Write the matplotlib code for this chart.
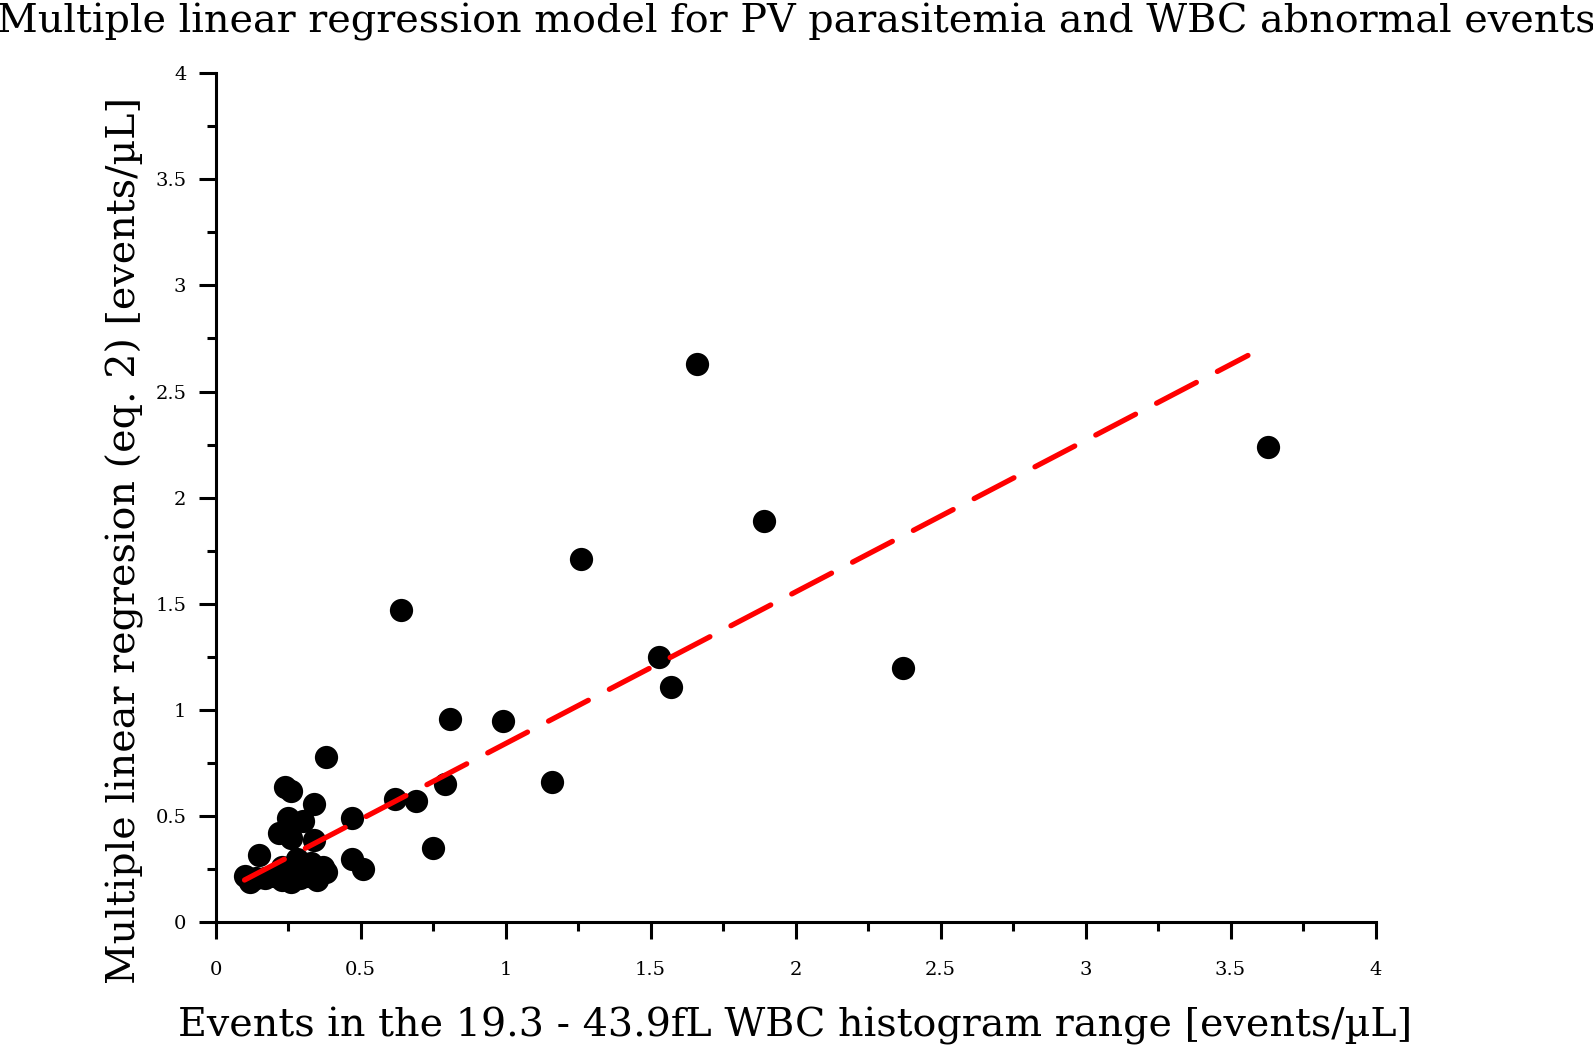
import matplotlib
matplotlib.use("Agg")
import matplotlib.pyplot as plt
from matplotlib.ticker import MultipleLocator

# scatter values
ev_x = [1.66, 3.63, 1.89, 1.26, 0.64, 1.53, 1.57, 2.37, 0.81, 0.99,
        0.38, 1.16, 0.79, 0.69, 0.62, 0.75, 0.47, 0.47, 0.51, 0.24,
        0.26, 0.34, 0.25, 0.30, 0.22, 0.34, 0.26, 0.15, 0.10, 0.12,
        0.23, 0.37, 0.14, 0.17, 0.20, 0.23, 0.26, 0.29, 0.32, 0.35,
        0.38, 0.33, 0.28]
mlr_y = [2.63, 2.24, 1.89, 1.71, 1.47, 1.25, 1.11, 1.20, 0.96, 0.95,
         0.78, 0.66, 0.65, 0.57, 0.58, 0.35, 0.49, 0.30, 0.25, 0.64,
         0.62, 0.56, 0.49, 0.48, 0.42, 0.39, 0.40, 0.32, 0.22, 0.19,
         0.26, 0.26, 0.21, 0.21, 0.22, 0.20, 0.19, 0.21, 0.22, 0.20,
         0.24, 0.28, 0.30]

# regression line
fit_x = [0.10, 3.56]
fit_y = [0.20, 2.67]

plt.rcParams['font.family'] = ['DejaVu Serif']

fig = plt.figure(figsize=(15.93, 10.52), dpi=100)
ax = fig.add_axes([0.1353, 0.1231, 0.7282, 0.8075])

ax.scatter(ev_x, mlr_y, s=280, color='black', linewidths=0, zorder=2)
ax.plot(fit_x, fit_y, color='#ff0000', lw=3.8, dashes=(8.5, 4.5),
        solid_capstyle='round', dash_capstyle='round', zorder=3)

ax.set_xlim(0, 4)
ax.set_ylim(0, 4)
ax.xaxis.set_major_locator(MultipleLocator(0.5))
ax.yaxis.set_major_locator(MultipleLocator(0.5))
ax.xaxis.set_minor_locator(MultipleLocator(0.25))
ax.yaxis.set_minor_locator(MultipleLocator(0.25))
ax.xaxis.set_major_formatter(matplotlib.ticker.FuncFormatter(lambda v, p: ('%g' % v)))
ax.yaxis.set_major_formatter(matplotlib.ticker.FuncFormatter(lambda v, p: ('%g' % v)))

for s in ['top', 'right']:
    ax.spines[s].set_visible(False)
for s in ['left', 'bottom']:
    ax.spines[s].set_linewidth(2.2)

ax.tick_params(which='major', direction='out', length=12, width=2.2,
               labelsize=14, pad=9)
ax.tick_params(axis='x', which='major', pad=16)
ax.tick_params(which='minor', direction='out', length=6.5, width=2.2)

ax.set_xlabel('Events in the 19.3 - 43.9fL WBC histogram range [events/µL]',
              fontsize=28.5, labelpad=20)
ax.set_ylabel('Multiple linear regresion (eq. 2) [events/µL]',
              fontsize=28.5, labelpad=8)
ax.yaxis.label.set_y(0.45)
fig.suptitle('Multiple linear regression model for PV parasitemia and WBC abnormal events',
             fontsize=28.6, x=0.5, y=0.997, va='top')

fig.savefig('out.png', dpi=100)
